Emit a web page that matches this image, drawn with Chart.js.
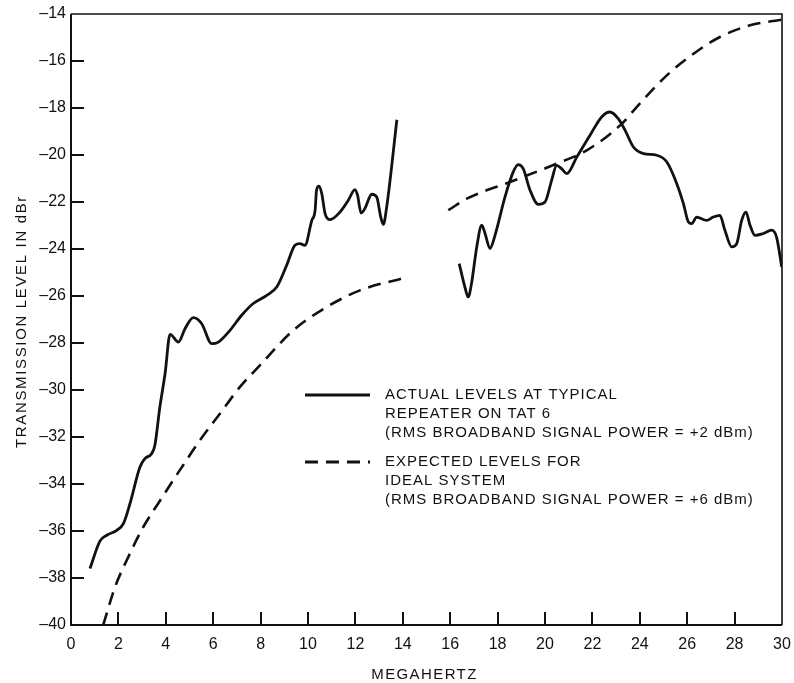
<!DOCTYPE html>
<html>
<head>
<meta charset="utf-8">
<script src="https://cdn.jsdelivr.net/npm/chart.js@4/dist/chart.umd.min.js"></script>
<style>
  html, body { margin: 0; padding: 0; background: #fff; }
  #wrap { width: 794px; height: 683px; }
</style>
</head>
<body>
<div id="wrap"><canvas id="c" width="794" height="683"></canvas></div>
<script>
// Transmission level (dBr) versus frequency (MHz)

// Measured levels at a typical repeater, lower band
const actualLowMHz = [0.80, 1.22, 1.51, 1.93, 2.21, 2.49, 2.91, 3.12, 3.40, 3.54, 3.75, 3.97, 4.18,
  4.53, 4.81, 5.16, 5.51, 5.94, 6.22, 6.71, 7.20, 7.69, 8.26, 8.68, 9.10, 9.45, 9.66, 9.87,
  10.16, 10.30, 10.36, 10.46, 10.58, 10.72, 10.93, 11.35, 11.70, 11.98, 12.09, 12.24, 12.40,
  12.69, 12.90, 13.07, 13.18, 13.32, 13.75];
const actualLowDbr = [-37.60, -36.43, -36.18, -35.97, -35.69, -34.83, -33.28, -32.92, -32.71, -32.35, -30.72, -29.30, -27.63,
  -27.96, -27.39, -26.92, -27.17, -28.03, -27.96, -27.46, -26.82, -26.32, -25.97, -25.62, -24.69, -23.84, -23.77, -23.84,
  -22.78, -22.35, -21.50, -21.33, -21.64, -22.49, -22.75, -22.43, -21.93, -21.47, -21.71, -22.47, -22.28,
  -21.67, -21.79, -22.64, -22.95, -22.21, -18.50];

// Measured levels at a typical repeater, upper band
const actualHighMHz = [16.38, 16.62, 16.76, 16.91, 17.12, 17.33, 17.47, 17.68, 17.89, 18.31, 18.66, 18.87,
  19.08, 19.37, 19.72, 20.00, 20.28, 20.49, 20.70, 20.92, 21.34, 21.90, 22.39, 22.74, 23.09,
  23.38, 23.73, 24.16, 24.72, 25.14, 25.56, 25.84, 26.05, 26.19, 26.40, 26.82, 27.10, 27.38,
  27.59, 27.88, 28.09, 28.30, 28.48, 28.65, 28.86, 29.21, 29.56, 29.77, 29.99];
const actualHighDbr = [-24.62, -25.62, -26.04, -25.40, -23.91, -22.99, -23.34, -23.98, -23.42, -21.79, -20.72, -20.41,
  -20.58, -21.50, -22.10, -22.00, -21.08, -20.44, -20.58, -20.79, -20.09, -19.16, -18.38, -18.17, -18.45,
  -18.95, -19.66, -19.94, -20.01, -20.30, -21.22, -22.07, -22.85, -22.92, -22.64, -22.78, -22.64, -22.57,
  -23.20, -23.91, -23.77, -22.78, -22.43, -22.99, -23.42, -23.34, -23.20, -23.49, -24.77];

// Expected levels for the ideal system
const expectedLowMHz = [1.36, 1.86, 2.42, 3.05, 3.76, 4.60, 5.44, 6.29, 7.13, 7.97, 9.38, 10.79, 12.19, 13.97];
const expectedLowDbr = [-40.00, -38.38, -37.10, -35.83, -34.70, -33.40, -32.14, -31.00, -29.87, -28.95, -27.46, -26.47, -25.76, -25.25];
const expectedHighMHz = [15.92, 16.70, 18.52, 20.49, 21.76, 23.17, 24.00, 25.14, 26.27, 27.38, 28.65, 29.99];
const expectedHighDbr = [-22.35, -21.86, -21.15, -20.37, -19.80, -18.74, -17.81, -16.61, -15.69, -14.98, -14.48, -14.24];

// Axis ranges and tick steps
const xRange = [0, 30];
const yRange = [-40, -14];
const xStep = 2;
const yStep = 2;

// Axis titles and key text
const xTitle = 'MEGAHERTZ';
const yTitle = 'TRANSMISSION LEVEL IN dBr';
const legendActual = ['ACTUAL LEVELS AT TYPICAL', 'REPEATER ON TAT 6', '(RMS BROADBAND SIGNAL POWER = +2 dBm)'];
const legendExpected = ['EXPECTED LEVELS FOR', 'IDEAL SYSTEM', '(RMS BROADBAND SIGNAL POWER = +6 dBm)'];

const FONT = '"Liberation Sans", Arial, Helvetica, sans-serif';
const INK = '#111';
const DASH = [13, 8];

function pairs(xs, ys) { return xs.map((x, i) => ({ x: x, y: ys[i] })); }
function dashSign(v) { return String(v).replace('-', '\u2013'); }

function series(data, dashed) {
  return {
    data: data,
    borderColor: INK,
    borderWidth: dashed ? 2.6 : 2.8,
    borderDash: dashed ? DASH : [],
    pointRadius: 0,
    fill: false,
    cubicInterpolationMode: 'monotone',
    borderCapStyle: 'butt',
    borderJoinStyle: 'round'
  };
}

function spaced(ctx, px) { if ('letterSpacing' in ctx) ctx.letterSpacing = px + 'px'; }

// Inward tick marks, the closed frame round the plot, and the axis titles
const framePlugin = {
  id: 'frame',
  afterDraw(chart) {
    const { ctx, chartArea: a, scales } = chart;
    ctx.save();
    ctx.strokeStyle = INK;
    ctx.lineCap = 'butt';
    ctx.lineWidth = 2;
    scales.x.ticks.forEach(t => {
      if (t.value <= xRange[0] || t.value >= xRange[1]) return;
      const px = Math.round(scales.x.getPixelForValue(t.value));
      ctx.beginPath(); ctx.moveTo(px, a.bottom); ctx.lineTo(px, a.bottom - 13); ctx.stroke();
    });
    scales.y.ticks.forEach(t => {
      if (t.value <= yRange[0] || t.value >= yRange[1]) return;
      const py = Math.round(scales.y.getPixelForValue(t.value));
      ctx.beginPath(); ctx.moveTo(a.left, py); ctx.lineTo(a.left + 13, py); ctx.stroke();
    });
    ctx.lineWidth = 2;
    ctx.beginPath();
    ctx.moveTo(a.left, a.top); ctx.lineTo(a.left, a.bottom); ctx.lineTo(a.right, a.bottom);
    ctx.stroke();
    ctx.lineWidth = 1.6;
    ctx.beginPath();
    ctx.moveTo(a.left, a.top); ctx.lineTo(a.right, a.top); ctx.lineTo(a.right, a.bottom);
    ctx.stroke();

    ctx.fillStyle = INK;
    ctx.font = '15px ' + FONT;
    ctx.textAlign = 'center';
    ctx.textBaseline = 'middle';
    spaced(ctx, 1.4);
    ctx.fillText(xTitle, (a.left + a.right) / 2 - 2, 675);
    spaced(ctx, 1.65);
    ctx.translate(22, (a.top + a.bottom) / 2 + 2);
    ctx.rotate(-Math.PI / 2);
    ctx.fillText(yTitle, 0, 0);
    ctx.restore();
  }
};

// Key with a line sample and three lines of text per entry
const keyPlugin = {
  id: 'key',
  afterDraw(chart) {
    const { ctx } = chart;
    ctx.save();
    ctx.fillStyle = INK;
    ctx.strokeStyle = INK;
    ctx.font = '15px ' + FONT;
    spaced(ctx, 1.0);
    ctx.textBaseline = 'middle';
    ctx.textAlign = 'left';
    const entries = [
      { lines: legendActual, y: 395, dash: [] },
      { lines: legendExpected, y: 462, dash: DASH }
    ];
    entries.forEach(e => {
      ctx.lineWidth = 2.8;
      ctx.setLineDash(e.dash);
      ctx.beginPath(); ctx.moveTo(305, e.y); ctx.lineTo(370, e.y); ctx.stroke();
      ctx.setLineDash([]);
      e.lines.forEach((s, i) => ctx.fillText(s, 385, e.y + i * 19.0));
    });
    ctx.restore();
  }
};

new Chart(document.getElementById('c'), {
  type: 'line',
  data: {
    datasets: [
      series(pairs(actualLowMHz, actualLowDbr), false),
      series(pairs(actualHighMHz, actualHighDbr), false),
      series(pairs(expectedLowMHz, expectedLowDbr), true),
      series(pairs(expectedHighMHz, expectedHighDbr), true)
    ]
  },
  options: {
    responsive: false,
    animation: false,
    layout: { padding: { left: 0, right: 12, top: 14, bottom: 0 } },
    plugins: { legend: { display: false }, tooltip: { enabled: false } },
    scales: {
      x: {
        type: 'linear',
        min: xRange[0], max: xRange[1],
        grid: { display: false, drawTicks: false },
        border: { display: false },
        ticks: {
          stepSize: xStep, autoSkip: false, maxRotation: 0, padding: 10,
          color: INK, font: { family: FONT, size: 16 }
        },
        title: { display: false },
        afterFit(s) { s.height = 58; s.paddingLeft = 0; s.paddingRight = 0; }
      },
      y: {
        type: 'linear',
        min: yRange[0], max: yRange[1],
        grid: { display: false, drawTicks: false },
        border: { display: false },
        ticks: {
          stepSize: yStep, padding: 5, color: INK,
          font: { family: FONT, size: 16 },
          callback: v => dashSign(v)
        },
        title: { display: false },
        afterFit(s) { s.width = 71; s.paddingTop = 0; s.paddingBottom = 0; }
      }
    }
  },
  plugins: [framePlugin, keyPlugin]
});
</script>
</body>
</html>
